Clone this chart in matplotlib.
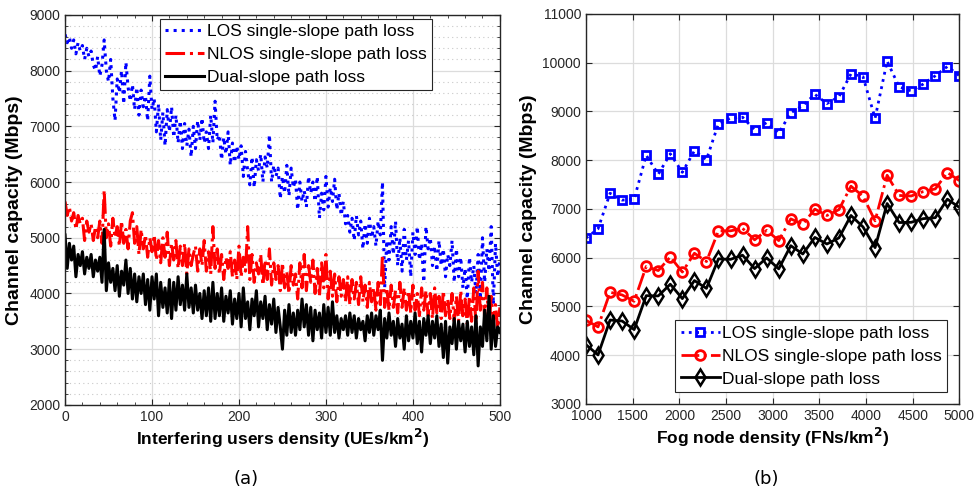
import numpy as np
import matplotlib
matplotlib.use("Agg")
import matplotlib.pyplot as plt
from matplotlib.ticker import MultipleLocator

# ---------------- data: panel (a) ----------------
ue_density = list(np.linspace(0, 500, 201))
los_a = [8650, 8500, 8600, 8400, 8550, 8300, 8500, 8350, 8450, 8200,
         8400, 8250, 8350, 8100, 8000, 8250, 7900, 8100, 8550, 8000,
         7800, 8200, 7500, 7100, 7850, 7600, 8000, 7400, 8150, 7700,
         7450, 7750, 7300, 7700, 7200, 7650, 7350, 7550, 7100, 7900,
         7300, 7500, 6900, 7400, 6750, 7250, 6650, 7300, 6900, 7350,
         6800, 7200, 6700, 7100, 6600, 7050, 6650, 6950, 6450, 7000,
         6600, 7100, 6750, 7150, 6700, 6900, 6600, 7200, 6700, 7450,
         6750, 6850, 6400, 6800, 6500, 6900, 6300, 6700, 6350, 6650,
         6400, 6650, 6100, 6550, 6200, 5950, 6450, 5900, 6400, 6200,
         6500, 6000, 6450, 6250, 6850, 6000, 6300, 6100, 6250, 5700,
         6100, 5800, 6300, 5750, 6250, 5900, 6050, 5500, 6000, 5650,
         5850, 5550, 6100, 5800, 6000, 5650, 6100, 5350, 5800, 5500,
         6100, 5550, 5900, 5650, 6050, 5500, 5800, 5400, 5650, 5250,
         5400, 5100, 5350, 4950, 5400, 5050, 5300, 4800, 5250, 4900,
         5350, 5000, 5200, 4850, 5300, 5050, 6000, 4100, 4950, 4600,
         5200, 4700, 5300, 4500, 5000, 4400, 5150, 4600, 4950, 4300,
         5100, 4700, 5200, 4600, 4900, 4200, 5200, 4800, 5000, 4500,
         4850, 4400, 4950, 4500, 4800, 4300, 4700, 4500, 4950, 4200,
         4800, 4300, 4650, 4100, 4450, 3900, 4650, 4200, 4500, 4000,
         4700, 3900, 5000, 4200, 4800, 4400, 5200, 3800, 4900, 4300,
         4600]
nlos_a = [5650, 5400, 5550, 5300, 5450, 5150, 5400, 5250, 5350, 4950,
          5300, 5100, 5250, 4950, 5200, 5000, 5300, 4900, 5850, 5000,
          5250, 4850, 5350, 5000, 5200, 4850, 5300, 4900, 5150, 4800,
          5300, 5450, 4900, 5200, 4700, 5150, 4800, 5050, 4650, 5000,
          4750, 5050, 4600, 4950, 4550, 5000, 4650, 5100, 4500, 4900,
          4600, 4950, 4450, 4850, 4500, 4900, 4350, 4800, 4500, 4700,
          4850, 4400, 4800, 4500, 4950, 4400, 4750, 4350, 5200, 4450,
          4800, 4350, 4700, 4250, 4650, 4450, 4750, 4300, 4600, 4250,
          4850, 4300, 4650, 4400, 5200, 4250, 4700, 4200, 4550, 4350,
          4700, 4150, 4600, 4250, 4800, 4150, 4550, 4250, 4500, 4050,
          4550, 4100, 4400, 4000, 4500, 4150, 4350, 3900, 4550, 4100,
          4700, 4050, 4500, 4200, 4600, 4000, 4450, 3950, 4550, 4100,
          4700, 3900, 4400, 3950, 4350, 3850, 4300, 3950, 4250, 3850,
          4300, 3800, 4250, 3900, 4200, 3800, 4300, 3850, 4150, 3750,
          4200, 3850, 4100, 3700, 4200, 3800, 4700, 3750, 4100, 3700,
          4150, 3750, 4050, 3650, 4200, 3750, 4100, 3700, 4050, 3650,
          4150, 3700, 4000, 3600, 4100, 3700, 4050, 3600, 4000, 3550,
          4100, 3650, 3950, 3550, 4050, 3600, 3900, 3550, 4000, 3500,
          3950, 3500, 4050, 3600, 3900, 3450, 3950, 3500, 4100, 3450,
          4400, 3700, 4200, 3550, 4100, 3400, 3950, 3500, 3800, 3350,
          3750]
dual_a = [5050, 4450, 4900, 4600, 4850, 4300, 4700, 4500, 4750, 4350,
          4650, 4450, 4700, 4300, 4600, 4400, 4650, 4200, 5150, 4050,
          4550, 4200, 4450, 4050, 4500, 3950, 4400, 4150, 4600, 4000,
          4450, 3900, 4350, 3850, 4300, 4000, 4350, 3800, 4250, 3700,
          4300, 3900, 4350, 3600, 4200, 3750, 4100, 3650, 4250, 3550,
          4200, 3700, 4300, 3800, 4150, 3700, 4350, 3750, 4100, 3650,
          4150, 3700, 4000, 3550, 4050, 3600, 4100, 3500, 4200, 3550,
          4000, 3600, 4100, 3500, 3950, 3650, 4050, 3450, 3900, 3550,
          4000, 3400, 4100, 3550, 3850, 3350, 3900, 3600, 4050, 3400,
          3850, 3550, 3950, 3350, 3800, 3450, 3900, 3300, 3750, 3400,
          3000, 3700, 3250, 3800, 3300, 3650, 3250, 3700, 3350, 3900,
          3400, 3800, 3250, 3750, 3150, 3700, 3350, 3650, 3200, 3800,
          3300, 3750, 3250, 3850, 3300, 3600, 3200, 3550, 3350, 3600,
          3250, 3650, 3300, 3600, 3200, 3550, 3350, 3500, 3150, 3600,
          3300, 3650, 3250, 3600, 3350, 3700, 2800, 3550, 3200, 3650,
          3250, 3500, 3050, 3550, 3200, 3450, 3000, 3600, 3150, 3500,
          3200, 3650, 3100, 3500, 2950, 3550, 3250, 3600, 3100, 3500,
          3200, 3600, 3050, 3450, 2850, 3500, 2750, 3400, 3100, 3550,
          3000, 3500, 3150, 3450, 2950, 3500, 3050, 3400, 2900, 3600,
          2700, 3400, 3050, 3700, 3150, 3950, 3000, 3600, 3050, 3400,
          3300]

# ---------------- data: panel (b) ----------------
fn_density = list(np.linspace(1000, 5000, 32))
los_b = [6400, 6590, 7320, 7180, 7200, 8100, 7710, 8130, 7750, 8190,
         8010, 8750, 8860, 8880, 8620, 8770, 8555, 8970, 9120, 9350,
         9160, 9300, 9770, 9710, 8860, 10030, 9500, 9420, 9560, 9730,
         9920, 9730]
nlos_b = [4715, 4580, 5290, 5235, 5105, 5820, 5735, 6015, 5705, 6090,
          5920, 6550, 6550, 6600, 6365, 6560, 6350, 6795, 6685, 6995,
          6865, 6985, 7465, 7260, 6755, 7690, 7275, 7265, 7355, 7410,
          7745, 7580]
dual_b = [4215, 4005, 4720, 4700, 4525, 5220, 5215, 5455, 5160, 5530,
          5370, 5975, 5965, 6050, 5775, 5995, 5770, 6245, 6075, 6415,
          6280, 6405, 6865, 6630, 6205, 7110, 6720, 6725, 6800, 6820,
          7200, 7030]

labels = ["LOS single-slope path loss", "NLOS single-slope path loss",
          "Dual-slope path loss"]

plt.rcParams['font.family'] = ['Liberation Sans', 'DejaVu Sans']
plt.rcParams['axes.linewidth'] = 1.0

fig = plt.figure(figsize=(9.75, 4.95), dpi=100)
ax1 = fig.add_axes([0.0667, 0.182, 0.446, 0.788])
ax2 = fig.add_axes([0.601, 0.184, 0.383, 0.788])

spine_col = '#262626'
grid_col = '#dcdcdc'

def style(ax):
    for s in ax.spines.values():
        s.set_color(spine_col)
    ax.tick_params(direction='in', which='both', top=True, right=True,
                   colors=spine_col, labelsize=10, labelcolor='#262626')
    ax.tick_params(which='major', length=4)
    ax.tick_params(which='minor', length=2.5)
    ax.grid(True, which='major', color=grid_col, linewidth=0.9)
    ax.set_axisbelow(True)

leg_kw = dict(fontsize=12.5, frameon=True, fancybox=False, edgecolor='#262626',
              framealpha=1, handlelength=2.25, handletextpad=0.15,
              labelspacing=0.45, borderpad=0.3)

# panel (a)
ax1.plot(ue_density, los_a, color='#0000ff', linestyle=':', linewidth=2.2, label=labels[0])
ax1.plot(ue_density, nlos_a, color='#ff0000', linestyle='-.', linewidth=2.2, label=labels[1])
ax1.plot(ue_density, dual_a, color='#000000', linestyle='-', linewidth=2.2, label=labels[2])
ax1.set_xlim(0, 500)
ax1.set_ylim(2000, 9000)
ax1.xaxis.set_major_locator(MultipleLocator(100))
ax1.yaxis.set_major_locator(MultipleLocator(1000))
ax1.yaxis.set_minor_locator(MultipleLocator(200))
ax1.xaxis.set_minor_locator(MultipleLocator(20))
style(ax1)
ax1.grid(True, which='minor', axis='y', color='#c8c8c8', linestyle=(0, (1, 3)), linewidth=0.8)
ax1.set_xlabel("Interfering users density (UEs/km$^\\mathbf{2}$)", fontsize=12.5, fontweight='bold', labelpad=2)
ax1.set_ylabel("Channel capacity (Mbps)", fontsize=14, fontweight='bold', labelpad=4)
leg1 = ax1.legend(loc='upper right', bbox_to_anchor=(0.844, 0.99), borderaxespad=0.0, **leg_kw)
leg1.get_frame().set_linewidth(0.8)

# panel (b)
ax2.plot(fn_density, los_b, color='#0000ff', linestyle=':', linewidth=2.0, marker='s',
         markersize=6, markerfacecolor='none', markeredgewidth=2.0, label=labels[0])
ax2.plot(fn_density, nlos_b, color='#ff0000', linestyle='-.', linewidth=2.0, marker='o',
         markersize=7, markerfacecolor='none', markeredgewidth=2.0, label=labels[1])
ax2.plot(fn_density, dual_b, color='#000000', linestyle='-', linewidth=2.0, marker='d',
         markersize=8, markerfacecolor='none', markeredgewidth=1.8, label=labels[2])
ax2.set_xlim(1000, 5000)
ax2.set_ylim(3000, 11000)
ax2.xaxis.set_major_locator(MultipleLocator(500))
ax2.yaxis.set_major_locator(MultipleLocator(1000))
style(ax2)
ax2.set_xlabel("Fog node density (FNs/km$^\\mathbf{2}$)", fontsize=12.5, fontweight='bold', labelpad=2)
ax2.set_ylabel("Channel capacity (Mbps)", fontsize=14, fontweight='bold', labelpad=4)
leg2 = ax2.legend(loc='lower right', borderaxespad=0.7, **leg_kw)
leg2.get_frame().set_linewidth(0.8)

fig.text(0.2525, 0.022, "(a)", fontsize=13, family='DejaVu Sans', ha='center')
fig.text(0.786, 0.022, "(b)", fontsize=13, family='DejaVu Sans', ha='center')

fig.savefig("out.png", dpi=100)
